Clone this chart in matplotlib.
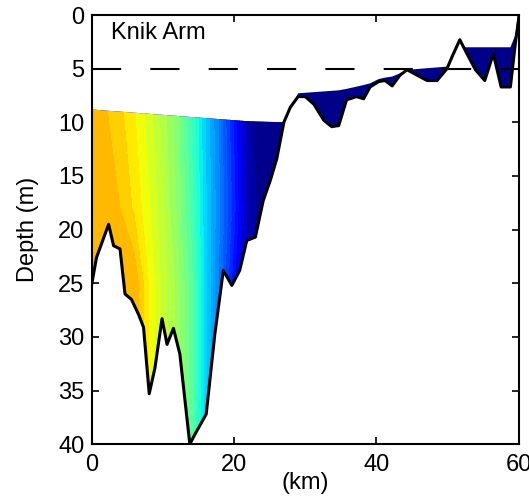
import numpy as np
import matplotlib
matplotlib.use("Agg")
import matplotlib.pyplot as plt

plt.rcParams["font.family"] = ["Liberation Sans", "DejaVu Sans"]

# bathymetry along the section (km, depth m)
bottom_km = [0.0, 0.7, 2.4, 3.1, 4.0, 4.7, 5.6, 6.6, 7.3, 8.1, 8.9, 9.9, 10.6,
             11.5, 12.4, 13.8, 14.5, 16.1, 17.3, 18.5, 19.7, 20.8, 21.8, 23.0,
             24.1, 25.1, 26.0, 27.0, 27.9, 29.0, 30.0, 31.2, 32.6, 33.7, 34.7,
             35.8, 37.2, 38.2, 39.1, 40.3, 41.2, 42.2, 43.3, 44.3, 45.7, 47.1,
             48.5, 49.9, 50.6, 51.7, 52.7, 53.9, 55.2, 56.4, 57.5, 58.8, 59.5,
             60.0]
bottom_depth = [25.2, 22.6, 19.5, 21.5, 21.8, 26.0, 26.5, 27.9, 29.1, 35.3,
                32.9, 28.3, 30.7, 29.2, 31.6, 40.0, 39.1, 37.2, 29.8, 23.8,
                25.2, 23.8, 21.0, 20.7, 17.3, 15.4, 13.4, 10.0, 8.6, 7.6, 7.6,
                8.3, 9.8, 10.4, 10.3, 7.9, 7.6, 7.8, 6.7, 6.2, 6.1, 6.6, 5.6,
                5.1, 5.6, 6.1, 6.1, 5.0, 3.9, 2.3, 3.6, 5.1, 6.1, 3.6, 6.7, 6.7,
                2.6, 0.2]

# top of the water section
surface_km = [0.0, 22.0, 27.3, 28.8, 35.0, 37.0, 39.0, 40.5, 42.5, 44.3, 50.0,
              51.7, 59.3, 60.0]
surface_depth = [8.8, 9.9, 10.0, 7.3, 7.0, 6.7, 6.4, 5.9, 5.7, 5.1, 4.8, 3.0,
                 3.0, -1.0]

# colour field (fraction of the jet colormap) at stations and depths
field_km = [0, 2, 4, 6, 8, 10, 12, 14, 16, 18, 20, 22, 24, 28]
field_depth = [8, 18, 25, 40]
field_top = [0.72, 0.70, 0.68, 0.65, 0.61, 0.56, 0.51, 0.42, 0.32, 0.24,
             0.14, 0.03, 0.01, 0.01]
field_mid = [0.72, 0.72, 0.70, 0.67, 0.63, 0.58, 0.52, 0.44, 0.33, 0.25,
             0.16, 0.04, 0.01, 0.01]
field_deep = [0.72, 0.72, 0.72, 0.72, 0.65, 0.59, 0.54, 0.46, 0.33, 0.24,
              0.13, 0.03, 0.01, 0.01]

x_ticks = [0, 20, 40, 60]
y_ticks = [0, 5, 10, 15, 20, 25, 30, 35, 40]

cmap = plt.get_cmap("jet")
navy = cmap(0.01)

fig = plt.figure(figsize=(5.29, 5.03), dpi=100)
ax = fig.add_axes([0.173, 0.117, 0.808, 0.853])

bk = np.array(bottom_km)
bd = np.array(bottom_depth)
sd = np.interp(bk, surface_km, surface_depth)

water = ax.fill_between(bk, sd, bd, where=bd > sd, interpolate=True,
                        color=navy, linewidth=0, zorder=1)

# colour section in the left basin, clipped to the first water polygon
Z = np.array([field_top, field_mid, field_deep, field_deep])
cs = ax.contourf(field_km, field_depth, Z, levels=np.linspace(0, 0.75, 31),
                 cmap=cmap, vmin=0, vmax=1, zorder=2)
cs.set_clip_path(water.get_paths()[0], transform=ax.transData)

ax.plot(bk, bd, color="black", linewidth=2.2, zorder=4)
ax.plot([0, 60], [5, 5], color="black", linewidth=1.5, dashes=(14, 14),
        zorder=5)

ax.text(2.8, 1.7, "Knik Arm", fontsize=17, ha="left", va="center", zorder=6)

ax.set_xlim(0, 60)
ax.set_ylim(40, 0)
ax.set_xticks(x_ticks)
ax.set_yticks(y_ticks)
ax.tick_params(direction="in", length=5, width=1.2, labelsize=17,
               top=True, right=True)
ax.tick_params(axis="x", pad=7)
ax.tick_params(axis="y", pad=5)
for s in ax.spines.values():
    s.set_linewidth(1.5)
ax.set_ylabel("Depth (m)", fontsize=17, labelpad=14)
ax.set_xlabel("(km)", fontsize=17, labelpad=-3)

fig.savefig("out.png", dpi=100)
